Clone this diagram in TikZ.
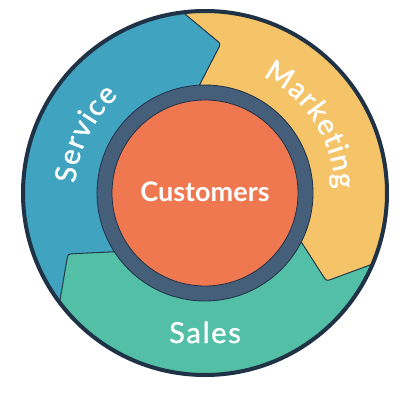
\documentclass[tikz,border=0pt]{standalone}
\usepackage{fontspec}
\setmainfont{Lato}
\newfontfamily\medfont[FakeBold=1.2]{Lato}
\usetikzlibrary{calc,decorations.text}
\definecolor{svc}{RGB}{64,163,191}
\definecolor{mkt}{RGB}{245,195,104}
\definecolor{sls}{RGB}{82,191,166}
\definecolor{org}{RGB}{239,120,80}
\definecolor{rng}{RGB}{69,94,122}
\definecolor{edgec}{RGB}{31,50,70}
\newcommand\flyseg[3]{%
  \filldraw[fill=#1, draw=edgec, line width=0.8pt]
   (#2:108pt) -- ($(#2-9:150pt)!6pt!(#2:108pt)$) .. controls (#2-9:150pt) .. ($(#2-9:150pt)!6pt!(#2+4:182pt)$) -- (#2+4:182pt)
   arc[start angle=#2+4, end angle=#3+4, radius=182pt]
   -- ($(#3-9:150pt)!6pt!(#3+4:182pt)$) .. controls (#3-9:150pt) .. ($(#3-9:150pt)!6pt!(#3:108pt)$) -- (#3:108pt) -- (#3:90pt) -- (#2:90pt) -- cycle;}
\tikzset{
  curvetext/.style={decorate, decoration={text along path, text={|\medfont\fontsize{29}{30}\selectfont\kern1.2pt|#1}, text align=center, text color=white}},
  lbl/.style={text=white, inner sep=0pt, anchor=base}
}
\begin{document}
\begin{tikzpicture}
\useasboundingbox (-205pt,-207pt) rectangle (205pt,193pt);
\flyseg{mkt}{-27}{93}
\flyseg{svc}{93}{213}
\flyseg{sls}{213}{333}
\draw[edgec, line width=4pt] (0,0) circle[radius=182pt];
\filldraw[fill=rng, draw=edgec, line width=0.8pt] (0,0) circle[radius=108pt];
\filldraw[fill=org, draw=edgec, line width=0.8pt] (0,0) circle[radius=93pt];
\node[lbl, font=\fontsize{27}{30}\selectfont\bfseries] (cust) at (0,-8pt) {Customers};
\node[lbl, font=\medfont\fontsize{29}{30}\selectfont\addfontfeatures{LetterSpace=6}] (sales) at (0,-150pt) {Sales};
\path[curvetext=Service] (198:130pt) arc[start angle=198, end angle=110, radius=130pt];
\path[curvetext=Marketing] (78:130pt) arc[start angle=78, end angle=-12, radius=130pt];
\end{tikzpicture}
\end{document}
